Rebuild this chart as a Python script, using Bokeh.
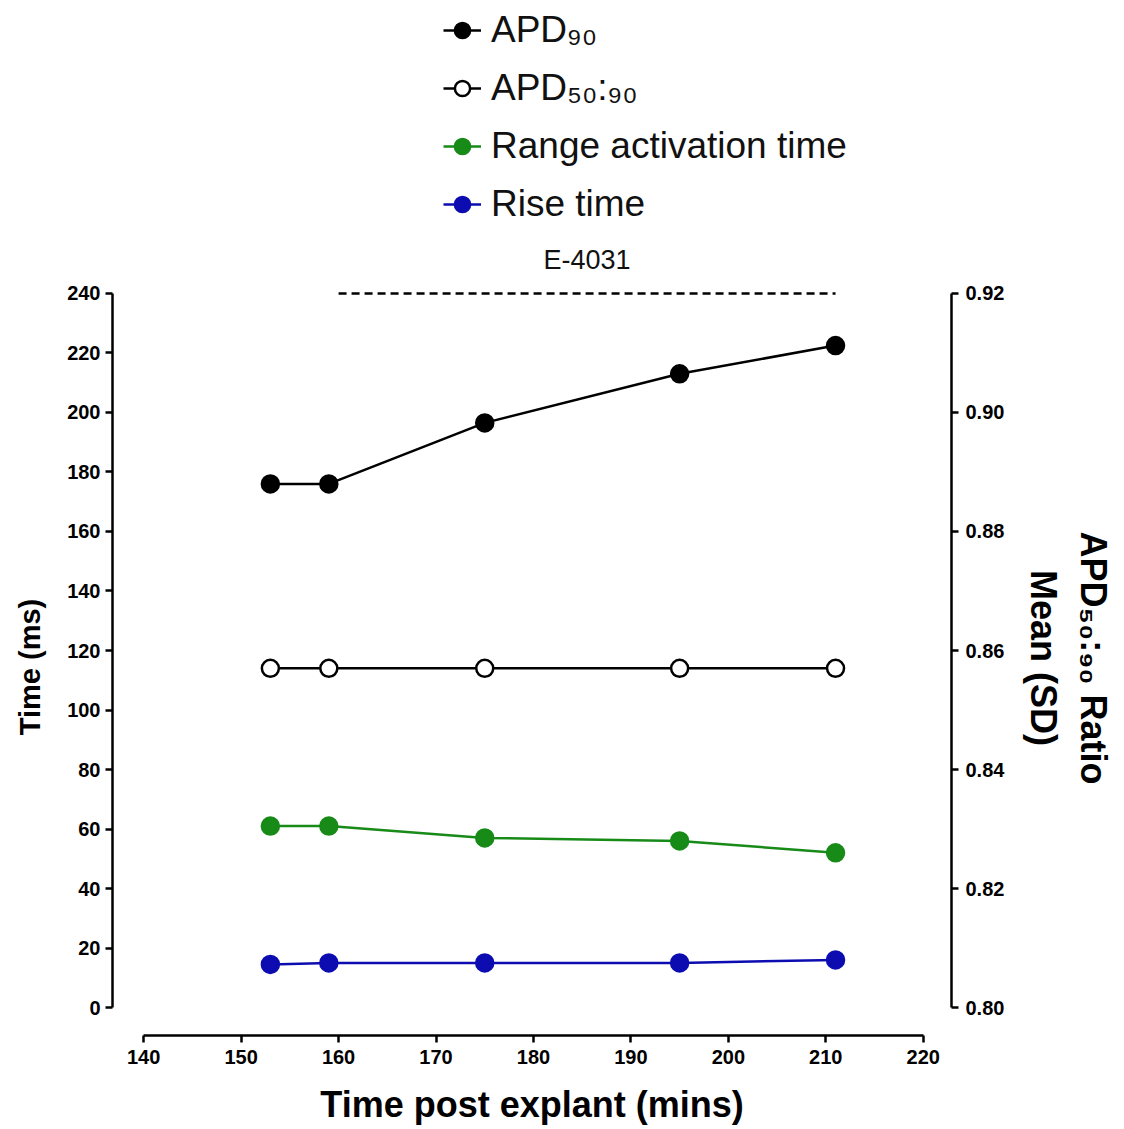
from bokeh.plotting import figure
from bokeh.layouts import column
from bokeh.models import (Range1d, LinearAxis, FixedTicker, Legend, LegendItem,
                          Label, PrintfTickFormatter)
from bokeh.embed import file_html
from bokeh.resources import INLINE

# ---------------- data ----------------
time_mins = [153, 159, 175, 195, 211]
apd90 = [176, 176, 196.5, 213, 222.5]
apd50_90_ratio = [0.857, 0.857, 0.857, 0.857, 0.857]
range_activation = [61, 61, 57, 56, 52]
rise_time = [14.5, 15, 15, 15, 16]

x_ticks = [140, 150, 160, 170, 180, 190, 200, 210, 220]
y_ticks = [0, 20, 40, 60, 80, 100, 120, 140, 160, 180, 200, 220, 240]
ratio_ticks = [0.80, 0.82, 0.84, 0.86, 0.88, 0.90, 0.92]
drug_label = "E-4031"
drug_x = [160, 211]
drug_y = [240, 240]

labels = ["APD₉₀", "APD₅₀:₉₀", "Range activation time", "Rise time"]

# ---------------- layout ----------------
FONT = "Liberation Sans"
TOP_H = 275
y_lo, y_hi = -9.4, 241.0
ratio_lo = 0.80 + y_lo / 240 * 0.12
ratio_hi = 0.80 + y_hi / 240 * 0.12
x_range = Range1d(136.8, 222.9)

p = figure(width=1124, height=1129 - TOP_H, output_backend="svg", toolbar_location=None,
           x_range=x_range, y_range=Range1d(y_lo, y_hi),
           min_border_left=112, min_border_right=173, min_border_top=15,
           min_border_bottom=94)
p.extra_y_ranges = {"ratio": Range1d(ratio_lo, ratio_hi)}
p.grid.visible = False
p.outline_line_color = None
p.background_fill_color = "white"
p.border_fill_color = "white"

right_axis = LinearAxis(y_range_name="ratio")
p.add_layout(right_axis, "right")

def style(ax, size="20px"):
    ax.axis_line_width = 2.5
    ax.axis_line_color = "black"
    ax.major_tick_line_width = 2.5
    ax.major_tick_line_color = "black"
    ax.major_tick_out = 7
    ax.major_tick_in = 0
    ax.minor_tick_out = 0
    ax.minor_tick_in = 0
    ax.minor_tick_line_color = None
    ax.major_label_text_font = FONT
    ax.major_label_text_font_style = "bold"
    ax.major_label_text_font_size = size
    ax.major_label_text_color = "black"
    ax.axis_label_text_font = FONT
    ax.axis_label_text_font_style = "bold"
    ax.axis_label_text_color = "black"

xa = p.xaxis[0]
style(xa)
xa.ticker = FixedTicker(ticks=x_ticks)
xa.bounds = (140, 220)
xa.major_label_standoff = 7
xa.axis_label = "Time post explant (mins)"
xa.axis_label_text_font_size = "36px"
xa.axis_label_standoff = 17

ya = p.yaxis[0]
style(ya)
ya.ticker = FixedTicker(ticks=y_ticks)
ya.bounds = (0, 240)
ya.major_label_standoff = 5
ya.axis_label = "Time  (ms)"
ya.axis_label_text_font_size = "29px"
ya.axis_label_standoff = 18

style(right_axis)
right_axis.ticker = FixedTicker(ticks=ratio_ticks)
right_axis.bounds = (0.80, 0.92)
right_axis.formatter = PrintfTickFormatter(format="%.2f")
right_axis.major_label_standoff = 7
right_axis.axis_label = "APD₅₀:₉₀  Ratio\nMean  (SD)"
right_axis.axis_label_text_font_size = "36px"
right_axis.axis_label_text_line_height = 1.2
right_axis.axis_label_standoff = 16

# ---------------- series ----------------
BLACK = "black"
GREEN = "#178a17"
BLUE = "#0c0cb0"
series = [
    dict(y=apd90, color=BLACK, fill=BLACK, rng="default"),
    dict(y=apd50_90_ratio, color=BLACK, fill="white", rng="ratio"),
    dict(y=range_activation, color=GREEN, fill=GREEN, rng="default"),
    dict(y=rise_time, color=BLUE, fill=BLUE, rng="default"),
]

for s in series:
    p.line(time_mins, s["y"], line_color=s["color"], line_width=2.5, y_range_name=s["rng"])
    p.scatter(time_mins, s["y"], size=17, fill_color=s["fill"], line_color=s["color"],
              line_width=2.5, y_range_name=s["rng"])

# drug bar
p.line(drug_x, drug_y, line_color="black", line_width=2.5, line_dash="8 5")

# ---------------- top strip: legend + drug label ----------------
top = figure(width=1124, height=TOP_H, output_backend="svg", toolbar_location=None,
             x_range=x_range, y_range=Range1d(0, TOP_H),
             x_axis_location=None, y_axis_location=None,
             min_border_left=112, min_border_right=173, min_border_top=0,
             min_border_bottom=0)
top.grid.visible = False
top.outline_line_color = None
top.background_fill_color = "white"
top.border_fill_color = "white"
# series copies for the legend keys, mapped to a range outside this strip's view
top.extra_y_ranges = {"offview": Range1d(10000, 10001)}

top.add_layout(Label(x=sum(drug_x) / 2, y=0, y_units="screen", y_offset=1,
                     text=drug_label, text_align="center", text_baseline="bottom",
                     text_font=FONT, text_font_size="27px", text_color="#111111"))

items = []
for lab, s in zip(labels, series):
    lr = top.line(time_mins, s["y"], line_color=s["color"], line_width=2.5,
                  y_range_name="offview")
    sr = top.scatter(time_mins, s["y"], size=17, fill_color=s["fill"], line_color=s["color"],
                     line_width=2.5, y_range_name="offview")
    items.append(LegendItem(label=lab, renderers=[lr, sr]))

legend = Legend(items=items, location=(326, 41), orientation="vertical",
                glyph_width=38, glyph_height=50, label_height=50, spacing=8,
                padding=5, margin=0, label_standoff=10,
                label_text_font=FONT, label_text_font_size="37px",
                label_text_color="#111111",
                background_fill_alpha=0, border_line_alpha=0)
top.add_layout(legend, "center")

layout = column(top, p, spacing=0)
open("out.html", "w").write(file_html(layout, INLINE))
